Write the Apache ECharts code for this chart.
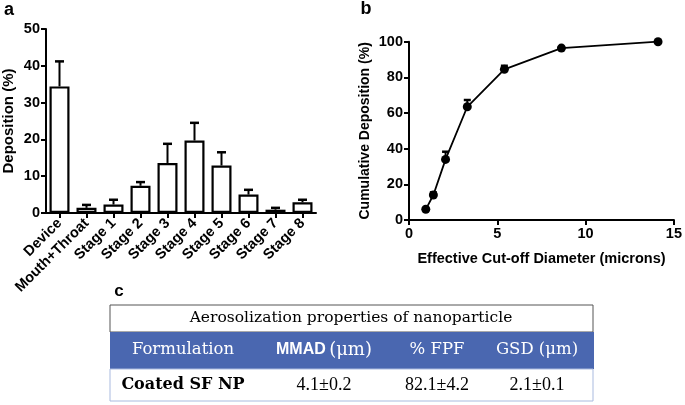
<!DOCTYPE html>
<html><head><meta charset="utf-8">
<script src="https://cdn.jsdelivr.net/npm/echarts@6/dist/echarts.min.js"></script>
<style>html,body{margin:0;padding:0;background:#fff}#c{width:685px;height:405px}</style>
</head><body><div id="c"></div>
<script>
// Panel a: deposition per stage
const stageNames = ['Device','Mouth+Throat','Stage 1','Stage 2','Stage 3','Stage 4','Stage 5','Stage 6','Stage 7','Stage 8'];
const depositionMean = [34.4, 1.4, 2.3, 7.4, 13.6, 19.7, 12.9, 5.0, 0.9, 2.9];
const depositionErr  = [6.8, 0.8, 1.3, 1.0, 5.2, 4.8, 3.6, 1.3, 0.5, 0.7];
// Panel b: cumulative deposition vs cut-off diameter
const cutoffDiameter = [0.95, 1.38, 2.07, 3.3, 5.4, 8.63, 14.1];
const cumulativeDep  = [6.0, 14.0, 34.0, 63.5, 84.5, 96.4, 100];
const cumulativeErr  = [0, 1.5, 4.3, 3.8, 2.0, 0.5, 0];
// Panel c: table
const tableTitle = 'Aerosolization properties of nanoparticle';
const tableHeaders = ['Formulation', 'MMAD (μm)', '% FPF', 'GSD (μm)'];
const tableRow = ['Coated SF NP', '4.1±0.2', '82.1±4.2', '2.1±0.1'];

const SANS = '"Liberation Sans", Arial, sans-serif';
const SERIF = '"DejaVu Serif", serif';
const axisCommon = {
  axisLine: {show: true, lineStyle: {color: '#000', width: 2}},
  axisTick: {show: true, length: 5, lineStyle: {color: '#000', width: 2}},
  axisLabel: {color: '#000', fontFamily: SANS, fontWeight: 'bold', fontSize: 14.5, margin: 6},
  splitLine: {show: false}
};
function errRenderer(capHalf) {
  return function (params, api) {
    const x = api.value(0), y = api.value(1), e = api.value(2);
    if (!e) return null;
    const p0 = api.coord([x, y]);
    const p1 = api.coord([x, y + e]);
    return {type: 'group', children: [
      {type: 'line', shape: {x1: p0[0], y1: p0[1], x2: p1[0], y2: p1[1]}, style: {stroke: '#000', lineWidth: 2}},
      {type: 'line', shape: {x1: p1[0] - capHalf, y1: p1[1], x2: p1[0] + capHalf, y2: p1[1]}, style: {stroke: '#000', lineWidth: 2.5}}
    ]};
  };
}
function txt(x, y, text, font, fill) {
  return {type: 'text', x: x, y: y, style: {text: text, font: font, fill: fill || '#000',
    align: 'center', verticalAlign: 'middle', textAlign: 'center', textVerticalAlign: 'middle'}};
}
const colX = [183, 324, 437, 537];
const L = 110, R = 593;
const graphics = [
  txt(9, 10, 'a', 'bold 18px ' + SANS),
  txt(366, 9, 'b', 'bold 18px ' + SANS),
  txt(119, 291, 'c', 'bold 17px ' + SANS),
  {type: 'rect', shape: {x: L, y: 305, width: R - L, height: 27}, style: {fill: '#fff', stroke: '#555', lineWidth: 1}},
  {type: 'rect', shape: {x: L, y: 332, width: R - L + 1, height: 37}, style: {fill: '#4a67b0', stroke: null}},
  {type: 'rect', shape: {x: L, y: 369, width: R - L, height: 32}, style: {fill: '#fff', stroke: '#a9badf', lineWidth: 1}},
  txt(351, 318, tableTitle, '15.5px ' + SERIF),
  txt(colX[0], 350, tableHeaders[0], '16.5px ' + SERIF, '#fff'),
  {type: 'text', x: colX[1], y: 350, style: {text: '{a|MMAD} {b|(μm)}', align: 'center', verticalAlign: 'middle', textAlign: 'center', textVerticalAlign: 'middle', fill: '#fff',
    rich: {a: {font: 'bold 16px ' + SANS, fill: '#fff'}, b: {font: '18px ' + SERIF, fill: '#fff'}}}},
  txt(colX[2], 350, tableHeaders[2], '16.5px ' + SERIF, '#fff'),
  txt(colX[3], 350, tableHeaders[3], '16.5px ' + SERIF, '#fff'),
  txt(colX[0], 385, tableRow[0], 'bold 16px ' + SERIF),
  txt(colX[1], 385, tableRow[1], '18px "Liberation Serif", serif'),
  txt(colX[2], 385, tableRow[2], '18px "Liberation Serif", serif'),
  txt(colX[3], 385, tableRow[3], '18px "Liberation Serif", serif')
];

const chart = echarts.init(document.getElementById('c'));
chart.setOption({
  animation: false,
  backgroundColor: '#fff',
  graphic: graphics,
  grid: [
    {left: 46, top: 29, width: 270, height: 184},
    {left: 409, top: 41.7, width: 268, height: 178.3}
  ],
  xAxis: [
    Object.assign({}, axisCommon, {type: 'category', gridIndex: 0, data: stageNames, boundaryGap: true,
      axisTick: {show: true, alignWithLabel: true, length: 5, lineStyle: {color: '#000', width: 2}},
      axisLabel: {color: '#000', fontFamily: SANS, fontWeight: 'bold', fontSize: 14.5, rotate: 45, margin: 8, interval: 0}}),
    Object.assign({}, axisCommon, {type: 'value', gridIndex: 1, min: 0, max: 15, interval: 5,
      name: 'Effective Cut-off Diameter (microns)', nameLocation: 'middle', nameGap: 31,
      nameTextStyle: {color: '#000', fontFamily: SANS, fontWeight: 'bold', fontSize: 14.5}})
  ],
  yAxis: [
    Object.assign({}, axisCommon, {type: 'value', gridIndex: 0, min: 0, max: 50, interval: 10,
      name: 'Deposition (%)', nameLocation: 'middle', nameGap: 30,
      nameTextStyle: {color: '#000', fontFamily: SANS, fontWeight: 'bold', fontSize: 15}}),
    Object.assign({}, axisCommon, {type: 'value', gridIndex: 1, min: 0, max: 100, interval: 20,
      name: 'Cumulative Deposition (%)', nameLocation: 'middle', nameGap: 37,
      nameTextStyle: {color: '#000', fontFamily: SANS, fontWeight: 'bold', fontSize: 14}})
  ],
  series: [
    {type: 'bar', xAxisIndex: 0, yAxisIndex: 0, data: depositionMean, barWidth: 20,
      itemStyle: {color: '#fff', borderColor: '#000', borderWidth: 2.2}},
    {type: 'custom', xAxisIndex: 0, yAxisIndex: 0, z: 5,
      data: depositionMean.map((v, i) => [i, v, depositionErr[i]]), renderItem: errRenderer(4.5)},
    {type: 'custom', xAxisIndex: 1, yAxisIndex: 1, z: 4,
      data: cutoffDiameter.map((v, i) => [v, cumulativeDep[i], cumulativeErr[i]]), renderItem: errRenderer(3.5)},
    {type: 'line', xAxisIndex: 1, yAxisIndex: 1, z: 6,
      data: cutoffDiameter.map((v, i) => [v, cumulativeDep[i]]),
      symbol: 'circle', symbolSize: 9, lineStyle: {color: '#000', width: 1.8}, itemStyle: {color: '#000'}}
  ]
});
</script></body></html>
